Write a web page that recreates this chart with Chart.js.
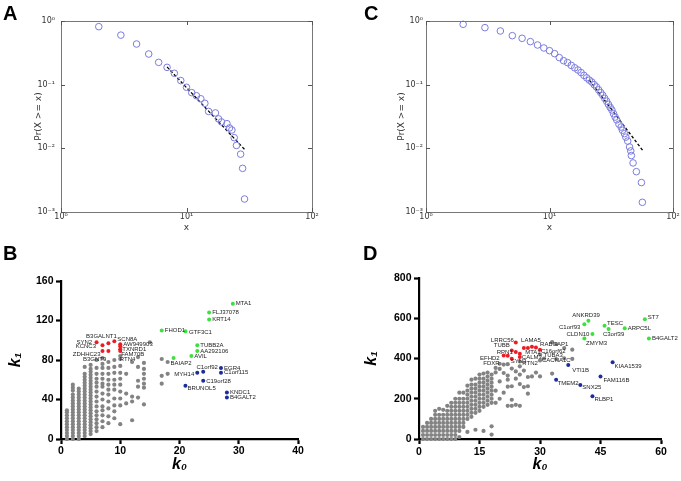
<!DOCTYPE html>
<html>
<head>
<meta charset="utf-8">
<script src="https://cdn.jsdelivr.net/npm/chart.js@4.4.0/dist/chart.umd.min.js"></script>
<style>
  body { margin: 0; background: #fff; width: 681px; height: 481px; overflow: hidden; position: relative; }
  canvas { position: absolute; }
</style>
</head>
<body>
<canvas id="chartA" width="340" height="240" style="left:0;top:0"></canvas>
<canvas id="chartC" width="341" height="240" style="left:340px;top:0"></canvas>
<canvas id="chartB" width="340" height="241" style="left:0;top:240px"></canvas>
<canvas id="chartD" width="341" height="241" style="left:340px;top:240px"></canvas>
<script>
// ---- Panel A: degree CCDF ----
const aX = [2,3,4,5,6,7,8,9,10,11,12,13,14,15,17,18,19,21,22,23,24,25,27,28,29];
const aY = [0.815,0.60,0.435,0.303,0.224,0.187,0.151,0.116,0.091,0.075,0.067,0.060,0.051,0.038,0.036,0.029,0.026,0.0244,0.0209,0.0194,0.0147,0.0111,0.0081,0.00485,0.0016];
const aFitX = [7, 29.5];
const aFitY = [0.19, 0.0093];

// ---- Panel C: degree CCDF ----
const cX = [2,3,4,5,6,7,8,9,10,11,12,13,14,15,16,17,18,19,20,21,22,23,24,25,26,27,28,29,30,31,32,33,34,35,36.5,38,39,40.5,41.5,43,44.5,45.5,46,47.5,50.5,55.5,56.5];
const cY = [0.887,0.786,0.697,0.588,0.535,0.474,0.420,0.377,0.342,0.307,0.266,0.238,0.222,0.201,0.184,0.170,0.155,0.140,0.128,0.118,0.110,0.100,0.092,0.083,0.075,0.068,0.061,0.055,0.049,0.044,0.040,0.035,0.031,0.028,0.024,0.0216,0.0192,0.017,0.015,0.013,0.0105,0.0091,0.0077,0.0059,0.0043,0.0029,0.00142];
const cFitX = [21, 58];
const cFitY = [0.118, 0.0088];

// log axis ticks (A and C)
const logXTicks = [1, 10, 100];
const logXText = ['10\u2070', '10\u00b9', '10\u00b2'];
const logYTicks = [0.001, 0.01, 0.1, 1];
const logYText = ['10\u207b\u00b3', '10\u207b\u00b2', '10\u207b\u00b9', '10\u2070'];

// ---- Panel B: k0 vs k1 ----
const bXTicks = [0, 10, 20, 30, 40];
const bYTicks = [0, 40, 80, 120, 160];
const bGray = [
  [1, [0,3,6,9,12,15,18,21,24,27,29]],
  [2, [0,3,6,9,12,15,18,21,24,27,30,33,36,39,42,45,49,52,55]],
  [3, [0,3,6,9,12,15,18,21,24,27,30,33,36,39,42,45,48,51]],
  [4, [3,6,9,12,15,18,21,24,27,30,33,36,39,42,45,48,51,54,57,60,63,66,73]],
  [5, [5,8,11,14,17,20,23,26,29,32,35,38,41,44,47,50,53,56,59,62,65,68,71,75]],
  [6, [8,12,16,20,24,28,33,38,43,48,53,57,61,66,72]],
  [7, [12,18,24,29,33,40,46,53,56,61,66,72,76]],
  [8, [16,23,31,38,45,50,55,60,66,72,78]],
  [9, [21,28,34,41,50,55,60,67,73]],
  [10, [15,34,41,48,55,61,67,74,81]],
  [11, [36,46,66]],
  [12, [19,38,43,78]],
  [13, [42,53,59,73,83]],
  [14, [35,52,56,61,66,71,77]],
  [15, [98]],
  [17, [56,64,81]],
  [18, [66,78]]
];
const bTagK0 = [7, 6, 10, 9];
const bTagK1 = [82, 80, 84, 80];
const bTagNames = ['ZDHHC23', 'B3GNT9', 'FAM70B', 'RTN4'];
const bRedK0 = [6,7,8,9,10,10,10,10,7,8];
const bRedK1 = [98,95,97,99,96,94,91,89,89,89];
const bRedNames = ['SYN2','KCNC3','B3GALNT1','SCN8A','AW949903','','TXNRD1','','',''];
const bGreenK0 = [29,25,25,17,21,23,23,22,19];
const bGreenK1 = [137,128,121,110,109,95,89,84,82];
const bGreenNames = ['MTA1','FLJ37078','KRT14','FHOD1','GTF3C1','TUBB2A','AA292106','AVIL','BAIAP2'];
const bBlueK0 = [24,27,23,27,24,21,28,28];
const bBlueK1 = [68,72,67,67,59,54,47,42];
const bBlueNames = ['C1orf92','EGR4','MYH14','C1orf115','C19orf28','BRUNOL5','KNDC1','B4GALT2'];

// ---- Panel D: k0 vs k1 ----
const dXTicks = [0, 15, 30, 45, 60];
const dYTicks = [0, 200, 400, 600, 800];
const dGray = [
  [1, [0,20,40,60]],
  [2, [0,20,40,60,80]],
  [3, [0,20,40,60,80,100]],
  [4, [0,20,40,60,80,100,120,140]],
  [5, [0,20,40,60,80,100,120,150]],
  [6, [0,20,40,60,80,100,120,145]],
  [7, [0,20,40,60,80,100,120,140,165]],
  [8, [0,20,40,60,80,100,120,140,160,180]],
  [9, [0,20,40,60,80,100,120,140,160,180,200]],
  [10, [10,40,60,80,100,120,140,160,180,200,230]],
  [11, [60,80,100,120,140,160,180,200,230]],
  [12, [35,100,120,140,160,180,200,220,240,265]],
  [13, [110,130,150,170,190,210,230,250,270,295]],
  [14, [46,130,150,170,190,210,230,250,270,300]],
  [15, [140,160,180,200,220,240,260,280,300,320]],
  [16, [40,160,180,200,220,240,260,280,300,325]],
  [17, [170,190,210,230,250,270,290,310,330]],
  [18, [22,63,180,200,220,240,260,280,300,320]],
  [19, [180,240,331,353]],
  [20, [200,286,348,374]],
  [21, [230,328]],
  [22, [165,260,295,315,372]],
  [23, [165,195,262,350]],
  [24, [170,300,336]],
  [25, [165,273,320,361]],
  [26, [258,340]],
  [27, [225,262,308]],
  [28, [311]],
  [29, [330]],
  [30, [311]],
  [31, [400]],
  [33, [325]],
  [34, [397,472]],
  [36, [401,452]],
  [38, [398,444]]
];
const dTagK0 = [33, 21, 25, 30, 30];
const dTagK1 = [482, 370, 385, 420, 390];
const dTagNames = ['RABGAP1', 'FDXR', 'RTN2', 'TUBA3', 'CACNA1C'];
const dRedK0 = [24,23,24,26,27,28,29,30,25,25,21,22,23];
const dRedK1 = [479,440,432,452,452,459,455,444,424,408,415,414,399];
const dRedNames = ['LRRC56','TUBB','','','LAMA5','MTA1','','C16orf62','','CALM3','EFHD2','RPN1','SYN3'];
const dGreenK0 = [56,57,51,46,47,42,41,43,41];
const dGreenK1 = [595,499,550,563,547,588,570,522,499];
const dGreenNames = ['ST7','B4GALT2','ARPC5L','TESC','C3orf39','ANKRD39','C1orf93','CLDN10','ZMYM3'];
const dBlueK0 = [37,48,45,34,40,43];
const dBlueK1 = [368,381,310,295,268,212];
const dBlueNames = ['VTI1B','KIAA1539','FAM116B','TMEM2','SNX25','RLBP1'];

// label placement [dx, dy, align]; default is right of the dot
const placeB = {
  'BAIAP2': [-3, 5, 'left'], 'C1orf92': [4, -5, 'center'], 'MYH14': [-3, 2, 'right'],
  'BRUNOL5': [2, 2.5, 'left'], 'C19orf28': [3, 1, 'left'], 'GTF3C1': [3.5, 1, 'left'],
  'SYN2': [-4.5, 0.5, 'right'], 'KCNC3': [-6.5, 1.5, 'right'], 'B3GALNT1': [-7, -6.5, 'center'],
  'SCN8A': [3, -2, 'left'], 'AW949903': [3, 0, 'left'], 'TXNRD1': [2, 0.5, 'left'],
  'ZDHHC23': [-2, -3.7, 'right'], 'B3GNT9': [-2, -0.7, 'center'], 'FAM70B': [1, -1.7, 'left'],
  'RTN4': [5.5, -0.7, 'left']
};
const placeD = {
  'ST7': [3, -2, 'left'], 'TESC': [2.5, -2.3, 'left'], 'C3orf39': [5, 5, 'center'],
  'ANKRD39': [-2.4, -5, 'center'], 'C1orf93': [-4, 2.7, 'right'], 'CLDN10': [-3, 0, 'right'],
  'ZMYM3': [1.6, 4.8, 'left'], 'VTI1B': [4, 5, 'left'], 'KIAA1539': [2, 4, 'left'],
  'FAM116B': [3, 4, 'left'], 'TMEM2': [1.5, 4, 'left'], 'SNX25': [2, 2, 'left'],
  'RLBP1': [2, 3.5, 'left'], 'LRRC56': [-2, -2, 'right'], 'TUBB': [-2, -5, 'right'],
  'LAMA5': [3, -7.5, 'center'], 'MTA1': [1, 6, 'center'], 'RABGAP1': [-12, 2, 'left'],
  'C16orf62': [1, 1.7, 'left'], 'RPN1': [-3, -3, 'center'], 'EFHD2': [-4, 3, 'right'],
  'SYN3': [-1, 3, 'left'], 'CALM3': [2, 0, 'left'], 'FDXR': [-4, -1, 'right'],
  'RTN2': [2.5, 1.5, 'left'], 'TUBA3': [3.5, 1, 'left'], 'CACNA1C': [2, 0, 'left']
};

const GRAY = '#838383', RED = '#ec1c24', GREEN = '#3ee03e', BLUE = '#1c2c9c';
const CIRCLE = '#7b7be0';

Chart.defaults.font.family = '"Liberation Sans", Arial, sans-serif';
Chart.defaults.animation = false;

const pts = (xs, ys) => xs.map((x, i) => ({ x, y: ys[i] }));
const cols = list => {
  const out = [];
  list.forEach(([k0, vals]) => vals.forEach(v => out.push({ x: k0, y: v })));
  return out;
};
const fixW = w => s => { s.width = w; s.paddingTop = 0; s.paddingBottom = 0; };
const fixH = h => s => { s.height = h; s.paddingLeft = 0; s.paddingRight = 0; };
const setTicks = vals => s => { s.ticks = vals.map(v => ({ value: v })); };

// Panel letter
const letter = (txt, x) => ({
  id: 'letter' + txt,
  afterDraw(chart) {
    const ctx = chart.ctx;
    ctx.save();
    ctx.font = 'bold 20px "Liberation Sans", Arial, sans-serif';
    ctx.fillStyle = '#000';
    ctx.textBaseline = 'alphabetic';
    ctx.fillText(txt, x, 20);
    ctx.restore();
  }
});

// matplotlib-like box with inward ticks
const mplFrame = {
  id: 'mplFrame',
  afterDraw(chart) {
    const { ctx, chartArea: a, scales } = chart;
    ctx.save();
    ctx.strokeStyle = '#777';
    ctx.lineWidth = 1;
    ctx.strokeRect(a.left + 0.5, a.top + 0.5, a.right - a.left, a.bottom - a.top);
    ctx.strokeStyle = '#555';
    ctx.beginPath();
    logXTicks.forEach(v => {
      const px = Math.round(scales.x.getPixelForValue(v)) + 0.5;
      ctx.moveTo(px, a.bottom); ctx.lineTo(px, a.bottom - 4);
      ctx.moveTo(px, a.top); ctx.lineTo(px, a.top + 4);
    });
    logYTicks.forEach(v => {
      const py = Math.round(scales.y.getPixelForValue(v)) + 0.5;
      ctx.moveTo(a.left, py); ctx.lineTo(a.left + 4, py);
      ctx.moveTo(a.right, py); ctx.lineTo(a.right - 4, py);
    });
    ctx.stroke();
    ctx.restore();
  }
};

// gene names next to points
const pointLabels = place => ({
  id: 'pointLabels',
  afterDatasetsDraw(chart) {
    const ctx = chart.ctx;
    ctx.save();
    ctx.font = '6px "Liberation Sans", Arial, sans-serif';
    ctx.fillStyle = '#222';
    ctx.textBaseline = 'middle';
    chart.data.datasets.forEach((ds, di) => {
      if (!ds.names) return;
      chart.getDatasetMeta(di).data.forEach((pt, i) => {
        const name = ds.names[i];
        if (!name) return;
        const p = place[name] || [3, 0, 'left'];
        ctx.textAlign = p[2];
        ctx.fillText(name, pt.x + p[0], pt.y + p[1]);
      });
    });
    ctx.restore();
  }
});

function logChart(id, xs, ys, fx, fy, lay) {
  const tickFont = { family: '"DejaVu Sans", sans-serif', size: 8 };
  const titleFont = { family: '"DejaVu Sans", sans-serif', size: 9 };
  return new Chart(document.getElementById(id), {
    type: 'scatter',
    data: {
      datasets: [
        { data: pts(xs, ys), pointRadius: 3.3, borderWidth: 1, borderColor: CIRCLE, backgroundColor: 'rgba(0,0,0,0)', clip: false },
        { type: 'line', data: pts(fx, fy), borderColor: '#000', borderWidth: 1.3, borderDash: [3, 2], pointRadius: 0, fill: false }
      ]
    },
    options: {
      responsive: false,
      layout: { padding: lay.pad },
      plugins: { legend: { display: false }, tooltip: { enabled: false } },
      scales: {
        x: {
          type: 'logarithmic', min: 1, max: 100,
          afterBuildTicks: setTicks(logXTicks),
          afterFit: fixH(lay.xh),
          ticks: { autoSkip: false, maxRotation: 0, padding: 0, color: '#333', font: tickFont, callback: (v, i) => logXText[i] },
          grid: { display: false, drawTicks: false },
          border: { display: false },
          title: { display: true, text: 'x', color: '#333', font: titleFont, padding: { top: 0, bottom: 1 } }
        },
        y: {
          type: 'logarithmic', min: 0.001, max: 1,
          afterBuildTicks: setTicks(logYTicks),
          afterFit: fixW(lay.yw),
          ticks: { autoSkip: false, padding: lay.yp, color: '#333', font: tickFont, callback: (v, i) => logYText[i] },
          grid: { display: false, drawTicks: false },
          border: { display: false },
          title: { display: true, text: 'Pr(X >= x)', color: '#333', font: titleFont, padding: { top: 3.6, bottom: 0 } }
        }
      }
    },
    plugins: [mplFrame, letter(lay.letter, lay.lx)]
  });
}

function prismChart(id, d, lay) {
  const axisCommon = {
    type: 'linear',
    grid: { display: true, drawOnChartArea: false, drawTicks: true, tickLength: 5, tickWidth: 2.2, tickColor: '#000', color: '#000' },
    border: { display: true, color: '#000', width: 2.2 }
  };
  const tickFont = { family: '"Liberation Sans", Arial, sans-serif', weight: 'bold', size: 10.5 };
  const titleFont = { family: '"Liberation Sans", Arial, sans-serif', weight: 'bold', style: 'italic', size: 16 };
  const dot = (data, color, names, r) => ({ data, names, pointRadius: r, borderWidth: 0, backgroundColor: color, clip: false });
  return new Chart(document.getElementById(id), {
    type: 'scatter',
    data: {
      datasets: [
        dot(cols(d.gray), GRAY, null, 2.1),
        dot(pts(d.tagK0, d.tagK1), GRAY, d.tagNames, 2.1),
        dot(pts(d.redK0, d.redK1), RED, d.redNames, 2),
        dot(pts(d.greenK0, d.greenK1), GREEN, d.greenNames, 2),
        dot(pts(d.blueK0, d.blueK1), BLUE, d.blueNames, 2)
      ]
    },
    options: {
      responsive: false,
      layout: { padding: lay.pad },
      plugins: { legend: { display: false }, tooltip: { enabled: false } },
      scales: {
        x: Object.assign({}, axisCommon, {
          min: d.xTicks[0], max: d.xTicks[d.xTicks.length - 1],
          afterBuildTicks: setTicks(d.xTicks),
          afterFit: fixH(lay.xh),
          ticks: { autoSkip: false, maxRotation: 0, padding: lay.xp, color: '#000', font: tickFont },
          title: { display: true, text: 'k\u2080', color: '#000', font: titleFont, padding: { top: 0, bottom: 0.5 } }
        }),
        y: Object.assign({}, axisCommon, {
          min: d.yTicks[0], max: d.yTicks[d.yTicks.length - 1],
          afterBuildTicks: setTicks(d.yTicks),
          afterFit: fixW(lay.yw),
          ticks: { autoSkip: false, padding: 2.5, color: '#000', font: tickFont },
          title: { display: true, text: 'k\u2081', color: '#000', font: titleFont, padding: { top: 2, bottom: 0 } }
        })
      }
    },
    plugins: [pointLabels(d.place), letter(lay.letter, lay.lx)]
  });
}

logChart('chartA', aX, aY, aFitX, aFitY,
  { pad: { left: 30, right: 28, top: 21, bottom: 6 }, xh: 22, yw: 31, yp: 6, letter: 'A', lx: 3 });
logChart('chartC', cX, cY, cFitX, cFitY,
  { pad: { left: 53, right: 8, top: 21, bottom: 6 }, xh: 22, yw: 33, yp: 3, letter: 'C', lx: 24 });

prismChart('chartB', {
  gray: bGray, tagK0: bTagK0, tagK1: bTagK1, tagNames: bTagNames,
  redK0: bRedK0, redK1: bRedK1, redNames: bRedNames,
  greenK0: bGreenK0, greenK1: bGreenK1, greenNames: bGreenNames,
  blueK0: bBlueK0, blueK1: bBlueK1, blueNames: bBlueNames,
  xTicks: bXTicks, yTicks: bYTicks, place: placeB
}, { pad: { left: 4, right: 42, top: 41, bottom: 6 }, xh: 36, yw: 57, xp: 1, letter: 'B', lx: 3 });

prismChart('chartD', {
  gray: dGray, tagK0: dTagK0, tagK1: dTagK1, tagNames: dTagNames,
  redK0: dRedK0, redK1: dRedK1, redNames: dRedNames,
  greenK0: dGreenK0, greenK1: dGreenK1, greenNames: dGreenNames,
  blueK0: dBlueK0, blueK1: dBlueK1, blueNames: dBlueNames,
  xTicks: dXTicks, yTicks: dYTicks, place: placeD
}, { pad: { left: 20, right: 20, top: 38, bottom: 6 }, xh: 36, yw: 59, xp: 2, letter: 'D', lx: 23 });
</script>
</body>
</html>
